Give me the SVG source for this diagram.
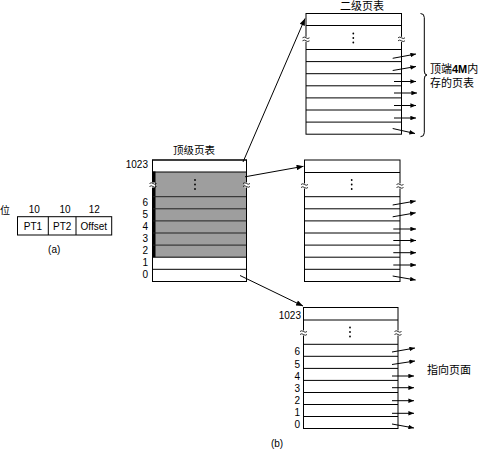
<svg xmlns="http://www.w3.org/2000/svg" width="480" height="452" viewBox="0 0 480 452">
<defs>
<style>
.t{font-family:"Liberation Sans",Arial,sans-serif;font-size:10px;fill:#000}
.c{font-family:"Liberation Sans","Noto Sans CJK SC",sans-serif;font-size:11px;fill:#000}
.box{fill:#fff;stroke:#000;stroke-width:1}
.ln{stroke:#000;stroke-width:1;fill:none}
.dk{stroke:#222;stroke-width:1;fill:none}
.brk{stroke:#000;stroke-width:0.8;fill:none}
.gap{fill:#fff;stroke:none}
.ptr{stroke:#000;stroke-width:1;fill:none;marker-end:url(#sm)}
.con{stroke:#000;stroke-width:1;fill:none;marker-end:url(#big)}
.dot{fill:#000}
</style>
<marker id="sm" viewBox="0 0 10 8" refX="10" refY="4" markerWidth="6" markerHeight="4.5" markerUnits="userSpaceOnUse" orient="auto"><path d="M0,0 L10,4 L0,8 z" fill="#000"/></marker>
<marker id="big" viewBox="0 0 10 8" refX="10" refY="4" markerWidth="9" markerHeight="5.5" markerUnits="userSpaceOnUse" orient="auto"><path d="M0,0 L10,4 L0,8 z" fill="#000"/></marker>
<g id="brkmark">
<rect class="gap" x="-2" y="-2.5" width="4" height="5"/>
<path class="brk" d="M-3.5,-1.5 q1.75,-1.5 3.5,0 t3.5,0 M-3.5,1.5 q1.75,-1.5 3.5,0 t3.5,0"/>
</g>
<g id="vdots"><circle class="dot" cx="0" cy="-4.5" r="0.9"/><circle class="dot" cx="0" cy="0" r="0.9"/><circle class="dot" cx="0" cy="4.5" r="0.9"/></g>
</defs>
<rect width="480" height="452" fill="#fff"/>

<!-- (a) address format -->
<g id="address-format">
<text class="c" x="0" y="214" style="font-size:10px">位</text>
<text class="t" x="34.3" y="213.3" text-anchor="middle">10</text>
<text class="t" x="65" y="213.3" text-anchor="middle">10</text>
<text class="t" x="94.3" y="213.3" text-anchor="middle">12</text>
<rect class="box" x="17.5" y="216.7" width="94.2" height="18.3"/>
<line class="ln" x1="48.3" y1="216.7" x2="48.3" y2="235"/>
<line class="ln" x1="76" y1="216.7" x2="76" y2="235"/>
<text class="t" x="33" y="229.8" text-anchor="middle">PT1</text>
<text class="t" x="62.2" y="229.8" text-anchor="middle">PT2</text>
<text class="t" x="93.8" y="229.8" text-anchor="middle">Offset</text>
<text class="t" x="54.2" y="253" text-anchor="middle">(a)</text>
</g>

<!-- top-level page table -->
<g id="top-level-table">
<text class="c" x="194" y="154" text-anchor="middle" style="font-size:10.5px">顶级页表</text>
<rect class="box" x="152.5" y="160" width="94" height="121.5"/>
<rect x="152.5" y="172" width="94" height="85.2" fill="#9e9e9e"/>
<rect x="152" y="171.5" width="3.5" height="85.7" fill="#000"/>
<line class="ln" x1="152.5" y1="172" x2="246.5" y2="172"/>
<line class="dk" x1="152.5" y1="196.7" x2="246.5" y2="196.7"/>
<line class="dk" x1="152.5" y1="208.8" x2="246.5" y2="208.8"/>
<line class="dk" x1="152.5" y1="220.9" x2="246.5" y2="220.9"/>
<line class="dk" x1="152.5" y1="233" x2="246.5" y2="233"/>
<line class="dk" x1="152.5" y1="245.1" x2="246.5" y2="245.1"/>
<line class="ln" x1="152.5" y1="257.2" x2="246.5" y2="257.2"/>
<line class="ln" x1="152.5" y1="269.3" x2="246.5" y2="269.3"/>
<rect x="152.5" y="160" width="94" height="121.5" fill="none" stroke="#000"/>
<use href="#brkmark" x="153" y="185"/>
<use href="#brkmark" x="246.5" y="185"/>
<use href="#vdots" x="195" y="184.5"/>
<text class="t" x="148" y="167.5" text-anchor="end">1023</text>
<text class="t" x="148" y="206" text-anchor="end">6</text>
<text class="t" x="148" y="218" text-anchor="end">5</text>
<text class="t" x="148" y="230" text-anchor="end">4</text>
<text class="t" x="148" y="242" text-anchor="end">3</text>
<text class="t" x="148" y="253.5" text-anchor="end">2</text>
<text class="t" x="148" y="265.5" text-anchor="end">1</text>
<text class="t" x="148" y="277.8" text-anchor="end">0</text>
</g>

<!-- second-level table: top 4M -->
<g id="second-level-top">
<text class="c" x="362" y="10" text-anchor="middle">二级页表</text>
<rect class="box" x="306" y="13.5" width="95.5" height="120.7"/>
<line class="ln" x1="306" y1="25.5" x2="401.5" y2="25.5"/>
<line class="ln" x1="306" y1="49.5" x2="401.5" y2="49.5"/>
<line class="ln" x1="306" y1="61.6" x2="401.5" y2="61.6"/>
<line class="ln" x1="306" y1="73.7" x2="401.5" y2="73.7"/>
<line class="ln" x1="306" y1="85.8" x2="401.5" y2="85.8"/>
<line class="ln" x1="306" y1="97.9" x2="401.5" y2="97.9"/>
<line class="ln" x1="306" y1="110" x2="401.5" y2="110"/>
<line class="ln" x1="306" y1="122.1" x2="401.5" y2="122.1"/>
<use href="#brkmark" x="306" y="39.3"/>
<use href="#brkmark" x="401.5" y="39.3"/>
<use href="#vdots" x="353.3" y="38"/>
<path class="ptr" d="M392.7,58.3 L416,54"/>
<path class="ptr" d="M392.7,70.5 L416,66.5"/>
<path class="ptr" d="M394,81.5 L416,81.5"/>
<path class="ptr" d="M394,93 L417,93"/>
<path class="ptr" d="M394,105.5 L416,105.5"/>
<path class="ptr" d="M394,118 L416,118"/>
<path class="ptr" d="M392.7,128.5 L415,133.5"/>
<path class="ln" d="M420.5,13.5 q3.8,0 3.8,4 L424.3,71 q0,4 2.7,4 q-2.7,0 -2.7,4 L424.3,132.7 q0,4 -3.8,4"/>
<text class="c" x="430" y="73">顶端<tspan style="font-weight:bold;font-family:'Liberation Sans',Arial,sans-serif">4M</tspan>内</text>
<text class="c" x="430" y="86.5">存的页表</text>
</g>

<!-- second-level table: middle -->
<g id="second-level-middle">
<rect class="box" x="304.5" y="160" width="95.5" height="121.5"/>
<line class="ln" x1="304.5" y1="172.5" x2="400" y2="172.5"/>
<line class="ln" x1="304.5" y1="196.7" x2="400" y2="196.7"/>
<line class="ln" x1="304.5" y1="208.8" x2="400" y2="208.8"/>
<line class="ln" x1="304.5" y1="220.9" x2="400" y2="220.9"/>
<line class="ln" x1="304.5" y1="233" x2="400" y2="233"/>
<line class="ln" x1="304.5" y1="245.1" x2="400" y2="245.1"/>
<line class="ln" x1="304.5" y1="257.2" x2="400" y2="257.2"/>
<line class="ln" x1="304.5" y1="269.3" x2="400" y2="269.3"/>
<use href="#brkmark" x="304.5" y="186"/>
<use href="#brkmark" x="400" y="186"/>
<use href="#vdots" x="351.7" y="184.5"/>
<path class="ptr" d="M392.7,205 L415.7,201"/>
<path class="ptr" d="M392.7,216.8 L415.7,212.8"/>
<path class="ptr" d="M393.3,229 L416,229"/>
<path class="ptr" d="M393.3,240.5 L416,240.5"/>
<path class="ptr" d="M393.3,252.7 L416,252.7"/>
<path class="ptr" d="M393.3,265 L416,265"/>
<path class="ptr" d="M392.7,276 L415.7,280"/>
</g>

<!-- second-level table: bottom -->
<g id="second-level-bottom">
<rect class="box" x="303.5" y="307.5" width="94.5" height="121"/>
<line class="ln" x1="303.5" y1="320" x2="398" y2="320"/>
<line class="ln" x1="303.5" y1="344.3" x2="398" y2="344.3"/>
<line class="ln" x1="303.5" y1="356.3" x2="398" y2="356.3"/>
<line class="ln" x1="303.5" y1="368.4" x2="398" y2="368.4"/>
<line class="ln" x1="303.5" y1="380.4" x2="398" y2="380.4"/>
<line class="ln" x1="303.5" y1="392.5" x2="398" y2="392.5"/>
<line class="ln" x1="303.5" y1="404.5" x2="398" y2="404.5"/>
<line class="ln" x1="303.5" y1="416.5" x2="398" y2="416.5"/>
<use href="#brkmark" x="303.5" y="333"/>
<use href="#brkmark" x="398" y="333"/>
<use href="#vdots" x="350" y="332"/>
<text class="t" x="301" y="318.5" text-anchor="end">1023</text>
<text class="t" x="300" y="355.3" text-anchor="end">6</text>
<text class="t" x="300" y="367.5" text-anchor="end">5</text>
<text class="t" x="300" y="379.6" text-anchor="end">4</text>
<text class="t" x="300" y="391.6" text-anchor="end">3</text>
<text class="t" x="300" y="403.6" text-anchor="end">2</text>
<text class="t" x="300" y="416" text-anchor="end">1</text>
<text class="t" x="300" y="428.3" text-anchor="end">0</text>
<path class="ptr" d="M392,352 L415,348"/>
<path class="ptr" d="M392,364.5 L415,361"/>
<path class="ptr" d="M392,376 L414,376"/>
<path class="ptr" d="M392,387.7 L414,387.7"/>
<path class="ptr" d="M392,400.7 L414,400.7"/>
<path class="ptr" d="M392,413.3 L414,413.3"/>
<path class="ptr" d="M392,424 L414,428"/>
<text class="c" x="427" y="374">指向页面</text>
<text class="t" x="277" y="447" text-anchor="middle">(b)</text>
</g>

<!-- connectors -->
<g id="connectors">
<path class="con" d="M243,162 L305,18.5"/>
<path class="con" d="M245,176.8 L303.5,166.3"/>
<path class="con" d="M240,275.5 L303,306"/>
</g>
</svg>
